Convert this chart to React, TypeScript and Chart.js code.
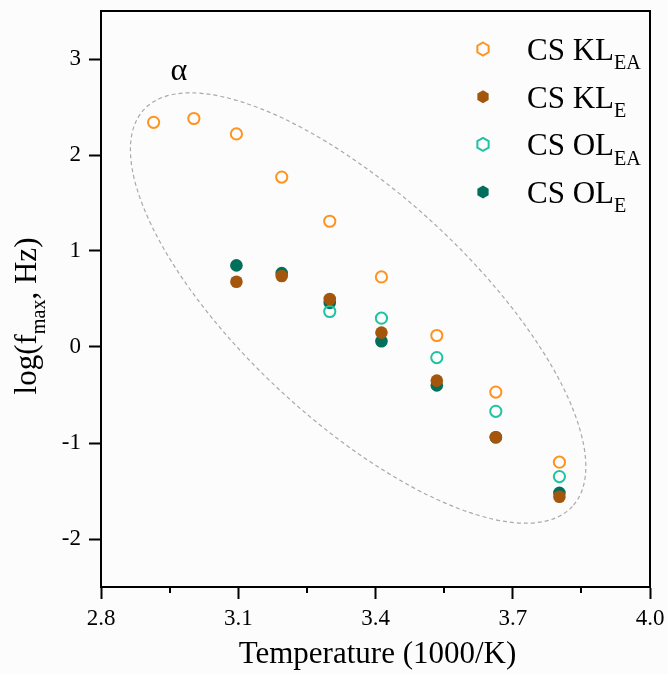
import React, { useEffect, useRef } from 'react';
import { Chart, registerables } from 'chart.js';

Chart.register(...registerables);

// 1000/T values (K^-1 * 1000)
const xAll = [2.915, 3.003, 3.096, 3.195, 3.3, 3.413, 3.534, 3.663, 3.802];
const xFilled = [3.096, 3.195, 3.3, 3.413, 3.534, 3.663, 3.802];
const xOLEA = [3.3, 3.413, 3.534, 3.663, 3.802];

const klEA = [2.34, 2.38, 2.22, 1.77, 1.31, 0.73, 0.12, -0.47, -1.2];
const klE = [0.68, 0.74, 0.5, 0.15, -0.35, -0.94, -1.56];
const olEA = [0.37, 0.3, -0.11, -0.67, -1.35];
const olE = [0.85, 0.77, 0.46, 0.06, -0.4, -0.94, -1.52];

const seriesMain = ['CS KL', 'CS KL', 'CS OL', 'CS OL'];
const seriesSub = ['EA', 'E', 'EA', 'E'];
const seriesColors = ['#FF9320', '#A3560C', '#1EC4A2', '#006F5B'];
const seriesFilled = [false, true, false, true];

const xTicks = [2.8, 3.1, 3.4, 3.7, 4.0];
const xMinorTicks = [2.95, 3.25, 3.55, 3.85];
const yTicks = [-2, -1, 0, 1, 2, 3];

const xTitle = 'Temperature (1000/K)';
const yTitleParts = [
  { text: 'log(f', sub: false },
  { text: 'max', sub: true },
  { text: ', Hz)', sub: false },
];
const regionLabel = 'α';
// ellipse annotation: centre in data units
const ellipseCenter = { x: 3.362, y: 0.406 };

const FONT = "'Liberation Serif', 'Times New Roman', serif";

type Part = { text: string; sub: boolean };

function richWidth(ctx: CanvasRenderingContext2D, parts: Part[], size: number) {
  let w = 0;
  for (const p of parts) {
    ctx.font = `${p.sub ? size * 0.65 : size}px ${FONT}`;
    w += ctx.measureText(p.text).width;
  }
  return w;
}

function drawRich(ctx: CanvasRenderingContext2D, parts: Part[], x: number, y: number, size: number) {
  let cx = x;
  ctx.textBaseline = 'alphabetic';
  ctx.textAlign = 'left';
  for (const p of parts) {
    ctx.font = `${p.sub ? size * 0.65 : size}px ${FONT}`;
    ctx.fillText(p.text, cx, p.sub ? y + size * 0.3 : y);
    cx += ctx.measureText(p.text).width;
  }
}

function hexagon(ctx: CanvasRenderingContext2D, cx: number, cy: number, r: number) {
  ctx.beginPath();
  for (let i = 0; i < 6; i++) {
    const a = -Math.PI / 2 + (i * Math.PI) / 3;
    const px = cx + r * Math.cos(a);
    const py = cy + r * Math.sin(a);
    if (i === 0) ctx.moveTo(px, py);
    else ctx.lineTo(px, py);
  }
  ctx.closePath();
}

const decorPlugin = {
  id: 'decor',
  beforeDraw(chart: any) {
    const ctx = chart.ctx;
    ctx.save();
    ctx.fillStyle = '#fcfcfc';
    ctx.fillRect(0, 0, chart.width, chart.height);
    ctx.restore();
  },
  beforeDatasetsDraw(chart: any) {
    const ctx = chart.ctx;
    const xs = chart.scales.x;
    const ys = chart.scales.y;
    const area = chart.chartArea;
    const k = (area.right - area.left) / 549;
    const cx = xs.getPixelForValue(ellipseCenter.x);
    const cy = ys.getPixelForValue(ellipseCenter.y);
    ctx.save();
    ctx.strokeStyle = '#a9a9a9';
    ctx.lineWidth = 1.2;
    ctx.setLineDash([4, 3]);
    ctx.beginPath();
    ctx.ellipse(cx, cy, 292 * k, 113.5 * k, (42.8 * Math.PI) / 180, 0, Math.PI * 2);
    ctx.stroke();
    ctx.restore();
  },
  afterDraw(chart: any) {
    const ctx = chart.ctx;
    const area = chart.chartArea;
    const xs = chart.scales.x;
    ctx.save();
    // frame
    ctx.strokeStyle = '#000';
    ctx.lineWidth = 2;
    ctx.setLineDash([]);
    ctx.strokeRect(area.left, area.top, area.right - area.left, area.bottom - area.top);
    // minor ticks
    ctx.beginPath();
    for (const v of xMinorTicks) {
      const px = Math.round(xs.getPixelForValue(v));
      ctx.moveTo(px, area.bottom);
      ctx.lineTo(px, area.bottom + 6);
    }
    ctx.stroke();

    ctx.fillStyle = '#000';
    // x title
    ctx.font = `31px ${FONT}`;
    ctx.textAlign = 'center';
    ctx.textBaseline = 'alphabetic';
    ctx.fillText(xTitle, (area.left + area.right) / 2 + 2, 663);
    // y title
    ctx.save();
    ctx.translate(36, 316);
    ctx.rotate(-Math.PI / 2);
    const w = richWidth(ctx, yTitleParts, 31);
    drawRich(ctx, yTitleParts, -w / 2, 0, 31);
    ctx.restore();
    // alpha label
    ctx.font = `32px ${FONT}`;
    ctx.textAlign = 'center';
    ctx.textBaseline = 'alphabetic';
    ctx.fillText(regionLabel, 179, 80);

    // legend
    const lx = area.right - 167;
    const ly0 = area.top + 38;
    const dy = 47.7;
    for (let i = 0; i < seriesMain.length; i++) {
      const y = ly0 + i * dy;
      hexagon(ctx, lx, y, 6.5);
      if (seriesFilled[i]) {
        ctx.fillStyle = seriesColors[i];
        ctx.fill();
      } else {
        ctx.strokeStyle = seriesColors[i];
        ctx.lineWidth = 2;
        ctx.stroke();
      }
      ctx.fillStyle = '#000';
      drawRich(
        ctx,
        [
          { text: seriesMain[i], sub: false },
          { text: seriesSub[i], sub: true },
        ],
        lx + 44,
        y + 11,
        31
      );
    }
    ctx.restore();
  },
};

function makeData(xs: number[], ys: number[]) {
  return xs.map((x, i) => ({ x, y: ys[i] }));
}

export default function App() {
  const ref = useRef<HTMLCanvasElement | null>(null);
  useEffect(() => {
    if (!ref.current) return;
    const seriesY = [klEA, klE, olEA, olE];
    const seriesX = [xAll, xFilled, xOLEA, xFilled];
    const datasets = seriesY.map((ys, i) => ({
      label: seriesMain[i] + seriesSub[i],
      data: makeData(seriesX[i], ys),
      showLine: false,
      pointRadius: seriesFilled[i] ? 6.3 : 5.6,
      pointHoverRadius: seriesFilled[i] ? 6.3 : 5.6,
      pointBorderWidth: seriesFilled[i] ? 0 : 2,
      pointBorderColor: seriesColors[i],
      pointBackgroundColor: seriesFilled[i] ? seriesColors[i] : 'rgba(0,0,0,0)',
      borderColor: seriesColors[i],
      backgroundColor: seriesColors[i],
    }));
    const zeroPad = (s: any) => {
      s.paddingTop = 0;
      s.paddingBottom = 0;
      s.paddingLeft = 0;
      s.paddingRight = 0;
    };
    const chart = new Chart(ref.current, {
      type: 'scatter',
      data: { datasets },
      options: {
        animation: false,
        responsive: true,
        maintainAspectRatio: false,
        layout: { padding: { top: 11, right: 18, left: 0, bottom: 0 } },
        plugins: { legend: { display: false }, tooltip: { enabled: false } },
        scales: {
          x: {
            type: 'linear',
            min: 2.8,
            max: 4.0,
            afterBuildTicks: (s: any) => {
              s.ticks = xTicks.map((v) => ({ value: v }));
            },
            afterFit: (s: any) => {
              s.height = 87;
              zeroPad(s);
            },
            ticks: {
              color: '#000',
              font: { family: FONT, size: 23 },
              padding: 6,
              maxRotation: 0,
              callback: (v: any) => Number(v).toFixed(1),
            },
            grid: {
              drawOnChartArea: false,
              drawTicks: true,
              tickLength: 12,
              tickWidth: 2,
              tickColor: '#000',
            },
            border: { display: true, color: '#000', width: 2 },
          },
          y: {
            type: 'linear',
            min: -2.5,
            max: 3.5,
            afterBuildTicks: (s: any) => {
              s.ticks = yTicks.map((v) => ({ value: v }));
            },
            afterFit: (s: any) => {
              s.width = 101;
              zeroPad(s);
            },
            ticks: {
              color: '#000',
              font: { family: FONT, size: 23 },
              padding: 8,
              callback: (v: any) => String(v),
            },
            grid: {
              drawOnChartArea: false,
              drawTicks: true,
              tickLength: 12,
              tickWidth: 2,
              tickColor: '#000',
            },
            border: { display: true, color: '#000', width: 2 },
          },
        },
      },
      plugins: [decorPlugin],
    } as any);
    return () => chart.destroy();
  }, []);
  return (
    <div style={{ position: 'fixed', left: 0, top: 0, width: 668, height: 674 }}>
      <canvas ref={ref} />
    </div>
  );
}
